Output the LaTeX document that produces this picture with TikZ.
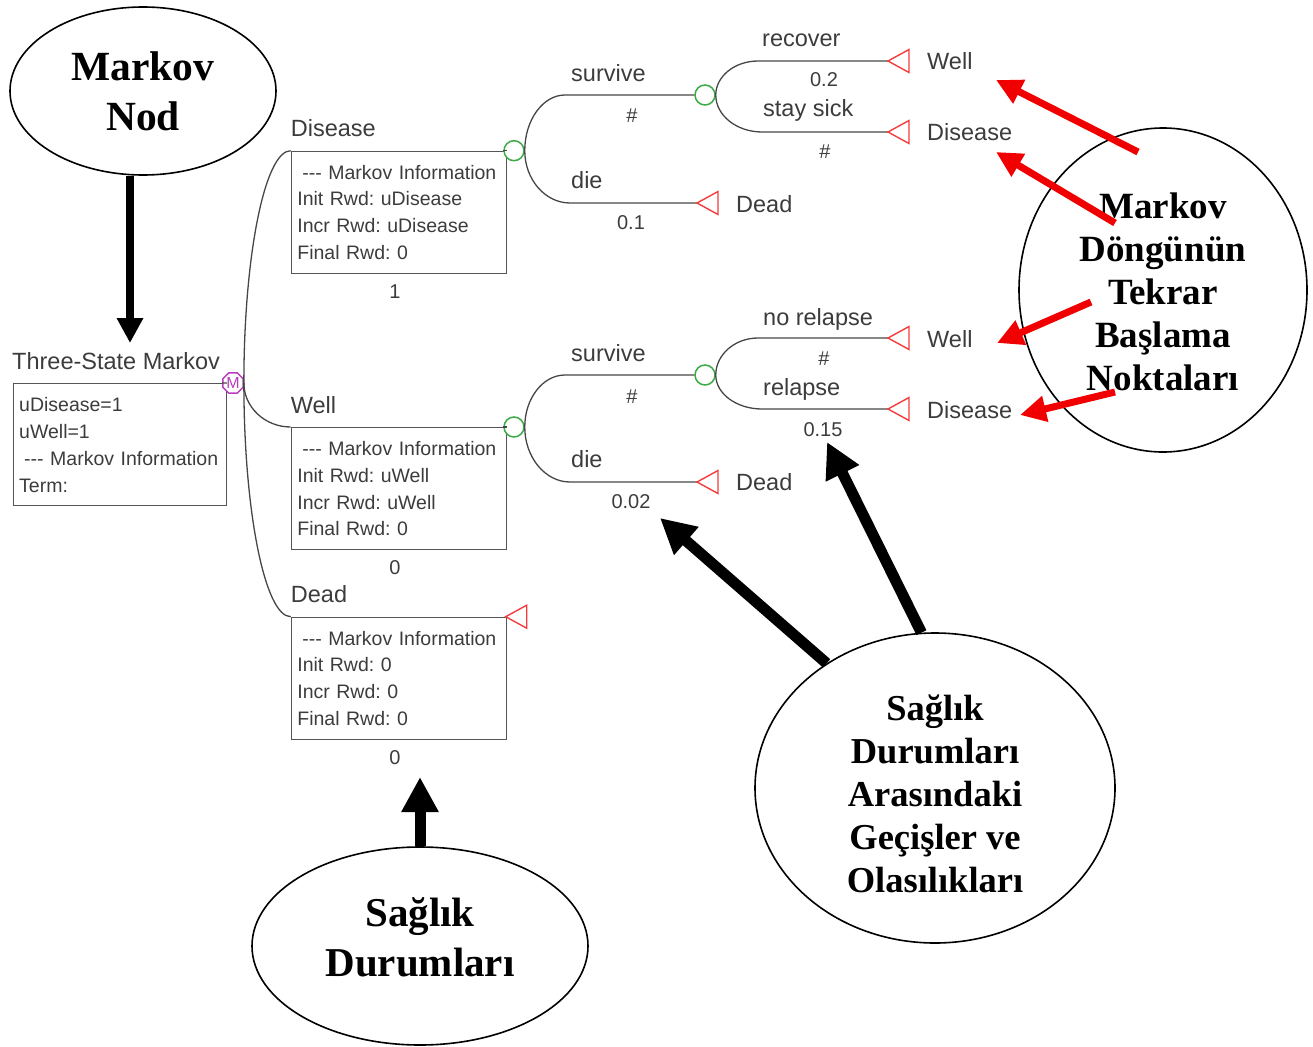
\documentclass[tikz,border=0pt]{standalone}
\usepackage{fontspec}
\setmainfont{Liberation Serif}
\newfontfamily\treefont{Liberation Sans}
\usetikzlibrary{arrows.meta,calc,shapes.geometric}
\frenchspacing

\definecolor{treegray}{RGB}{60,60,60}
\definecolor{linegray}{RGB}{70,70,70}
\definecolor{boxgray}{RGB}{85,85,85}
\definecolor{chancegreen}{RGB}{60,170,70}
\definecolor{termred}{RGB}{245,60,60}
\definecolor{markovmag}{RGB}{185,60,190}
\definecolor{callred}{RGB}{240,0,0}

\begin{document}
\begin{tikzpicture}[x=1pt,y=-1pt,
  lbl/.style={font=\treefont\fontsize{23.5}{28}\selectfont, text=treegray, inner sep=0pt},
  prob/.style={font=\treefont\fontsize{20}{24}\selectfont, text=treegray, inner sep=0pt},
  infobox/.style={draw=boxgray, line width=1.4pt, font=\treefont\fontsize{19.5}{26.8}\selectfont,
    text=treegray, align=left, inner xsep=6pt, inner ysep=0pt, anchor=north west, minimum height=122pt},
  chance/.style={circle, draw=chancegreen, line width=1.5pt, minimum size=20pt, inner sep=0pt, fill=white},
  mnode/.style={regular polygon, regular polygon sides=8, draw=markovmag, line width=1.4pt,
    minimum size=22pt, inner sep=0pt, text=markovmag, fill=white,
    font=\treefont\fontsize{16}{16}\selectfont},
  brline/.style={draw=linegray, line width=1.3pt},
  br/.style={to path={.. controls ($(\tikztostart)!0.55!(\tikztostart|-\tikztotarget)$)
      and ($(\tikztotarget)!0.55!(\tikztostart|-\tikztotarget)$) .. (\tikztotarget)}},
  termtri/.pic={\draw[termred, line width=1.4pt] (0,0) -- (21,-11.5) -- (21,11.5) -- cycle;},
  callout/.style={ellipse, draw=black, line width=1.6pt, inner sep=0pt},
  calltext/.style={align=center, inner sep=0pt},
  blkarrow/.style={line width=11pt, -{Triangle[length=35pt,width=35pt]}},
  thinblk/.style={line width=8pt, -{Triangle[length=25pt,width=25pt]}},
  redarrow/.style={draw=callred, line width=7pt, -{Triangle[length=26pt,width=25pt]}},
]
\useasboundingbox (0,0) rectangle (1313,1046);

% ---------- root Markov node ----------
\node[lbl, anchor=base west] (rootlbl) at (12,369) {Three-State Markov};
\node[infobox, text width=201pt] (rootbox) at (12.5,383)
  {uDisease=1\\[0.2pt]uWell=1\\[0.2pt]\hspace*{5pt}-{}-{}- Markov Information\\[0.2pt]Term:};
\node[mnode] (mk) at (233,383) {M};
\draw[brline] (rootbox.north east) -- (mk.west);

% ---------- Markov states ----------
\node[infobox, text width=203pt] (dbox) at (290.7,150.7)
  {\hspace*{5pt}-{}-{}- Markov Information\\Init Rwd: uDisease\\Incr Rwd: uDisease\\Final Rwd: 0};
\node[lbl, anchor=base west] (dlbl) at (290.7,136) {Disease};
\node[prob, anchor=base] (dval) at (395,298) {1};
\node[chance] (c0) at (514,150.7) {};
\draw[brline] (dbox.north east) -- (c0.west);

\node[infobox, text width=203pt] (wbox) at (290.7,427)
  {\hspace*{5pt}-{}-{}- Markov Information\\Init Rwd: uWell\\Incr Rwd: uWell\\Final Rwd: 0};
\node[lbl, anchor=base west] (wlbl) at (290.7,413) {Well};
\node[prob, anchor=base] (wval) at (395,574) {0};
\node[chance] (c2) at (514,427) {};
\draw[brline] (wbox.north east) -- (c2.west);

\node[infobox, text width=203pt] (xbox) at (290.7,616.7)
  {\hspace*{5pt}-{}-{}- Markov Information\\Init Rwd: 0\\Incr Rwd: 0\\Final Rwd: 0};
\node[lbl, anchor=base west] (xlbl) at (290.7,602) {Dead};
\node[prob, anchor=base] (xval) at (395,764) {0};
\coordinate (tx) at (505.7,616.7);
\pic at (tx) {termtri};

\draw[brline] (mk.east) to[br] (dbox.north west);
\draw[brline] (mk.east) to[br] (wbox.north west);
\draw[brline] (mk.east) to[br] (xbox.north west);

% ---------- Disease: transitions ----------
\node[chance] (c1) at (705,95) {};
\coordinate (s0) at (565,95);
\coordinate (s1) at (570,203);
\coordinate (t0) at (697,203);
\draw[brline] (c0.east) to[br] (s0) -- (c1.west);
\draw[brline] (c0.east) to[br] (s1) -- (t0);
\pic at (t0) {termtri};
\node[lbl, anchor=base west] (l0) at (571,82) {survive};
\node[prob, anchor=base] (p0) at (632,123) {\#};
\node[lbl, anchor=base west] (l1) at (571,188) {die};
\node[prob, anchor=base] (p1) at (631,229) {0.1};
\node[lbl, anchor=base west] (e0) at (736,212.5) {Dead};

\coordinate (s2) at (758,61);
\coordinate (t1) at (888,61);
\coordinate (s3) at (762,132);
\coordinate (t2) at (888,132);
\draw[brline] (c1.east) to[br] (s2) -- (t1);
\draw[brline] (c1.east) to[br] (s3) -- (t2);
\pic at (t1) {termtri};
\pic at (t2) {termtri};
\node[lbl, anchor=base west] (l2) at (762,47) {recover};
\node[prob, anchor=base] (p2) at (824,87) {0.2};
\node[lbl, anchor=base west] (l3) at (763,117) {stay sick};
\node[prob, anchor=base] (p3) at (825,158) {\#};
\node[lbl, anchor=base west] (e1) at (927,70) {Well};
\node[lbl, anchor=base west] (e2) at (927,140.5) {Disease};

% ---------- Well: transitions ----------
\node[chance] (c3) at (705,375) {};
\coordinate (s4) at (565,375);
\coordinate (s5) at (570,482);
\coordinate (t3) at (697,482);
\draw[brline] (c2.east) to[br] (s4) -- (c3.west);
\draw[brline] (c2.east) to[br] (s5) -- (t3);
\pic at (t3) {termtri};
\node[lbl, anchor=base west] (l4) at (571,361) {survive};
\node[prob, anchor=base] (p4) at (632,403) {\#};
\node[lbl, anchor=base west] (l5) at (571,467) {die};
\node[prob, anchor=base] (p5) at (631,508) {0.02};
\node[lbl, anchor=base west] (e3) at (736,490) {Dead};

\coordinate (s6) at (758,338);
\coordinate (t4) at (888,338);
\coordinate (s7) at (762,409);
\coordinate (t5) at (888,409);
\draw[brline] (c3.east) to[br] (s6) -- (t4);
\draw[brline] (c3.east) to[br] (s7) -- (t5);
\pic at (t4) {termtri};
\pic at (t5) {termtri};
\node[lbl, anchor=base west] (l6) at (763,325) {no relapse};
\node[prob, anchor=base] (p6) at (824,365) {\#};
\node[lbl, anchor=base west] (l7) at (763,395) {relapse};
\node[prob, anchor=base] (p7) at (823,436) {0.15};
\node[lbl, anchor=base west] (e4) at (927,347) {Well};
\node[lbl, anchor=base west] (e5) at (927,418) {Disease};

% ---------- explanatory callouts ----------
\node[callout, minimum width=266pt, minimum height=168pt] (cMN) at (143,91) {};
\node[calltext, font=\bfseries\fontsize{41.5}{50}\selectfont] (tMN) at (cMN.center) {Markov\\Nod};

\node[callout, minimum width=288pt, minimum height=324pt] (cMD) at (1163,290) {};
\node[calltext, font=\bfseries\fontsize{37}{43}\selectfont] (tMD) at ([yshift=-2pt]cMD.center)
  {Markov\\Döngünün\\Tekrar\\Başlama\\Noktaları};

\node[callout, minimum width=360pt, minimum height=310pt] (cGC) at (935,788) {};
\node[calltext, font=\bfseries\fontsize{36.5}{43}\selectfont] (tGC) at ([yshift=-6pt]cGC.center)
  {Sağlık\\Durumları\\Arasındaki\\Geçişler ve\\Olasılıkları};

\node[callout, minimum width=336pt, minimum height=198pt] (cSD) at (420,946) {};
\node[calltext, font=\bfseries\fontsize{41}{50}\selectfont] (tSD) at ([yshift=9pt]cSD.center)
  {Sağlık\\Durumları};

% ---------- pointer arrows ----------
\coordinate (mnTip) at (130,343);
\draw[thinblk] (cMN.south -| mnTip) -- (mnTip);
\coordinate (sdTip) at (420,777);
\draw[blkarrow] (cSD.north) -- (sdTip);
\coordinate (gcTipA) at (660,518);
\coordinate (gcTipB) at (827,442);
\draw[blkarrow] (cGC.131) -- (gcTipA);
\draw[blkarrow] (cGC.95) -- (gcTipB);

\coordinate (mdTailA) at (1138,152);
\coordinate (mdTailB) at (1115,223);
\coordinate (mdTailC) at (1091,302);
\coordinate (mdTailD) at (1115,392);
\coordinate (mdTipA) at (996,80);
\coordinate (mdTipB) at (996,152);
\coordinate (mdTipC) at (997,343);
\coordinate (mdTipD) at (1020,415);
\draw[redarrow] (mdTailA) -- (mdTipA);
\draw[redarrow] (mdTailB) -- (mdTipB);
\draw[redarrow] (mdTailC) -- (mdTipC);
\draw[redarrow] (mdTailD) -- (mdTipD);
\end{tikzpicture}
\end{document}
